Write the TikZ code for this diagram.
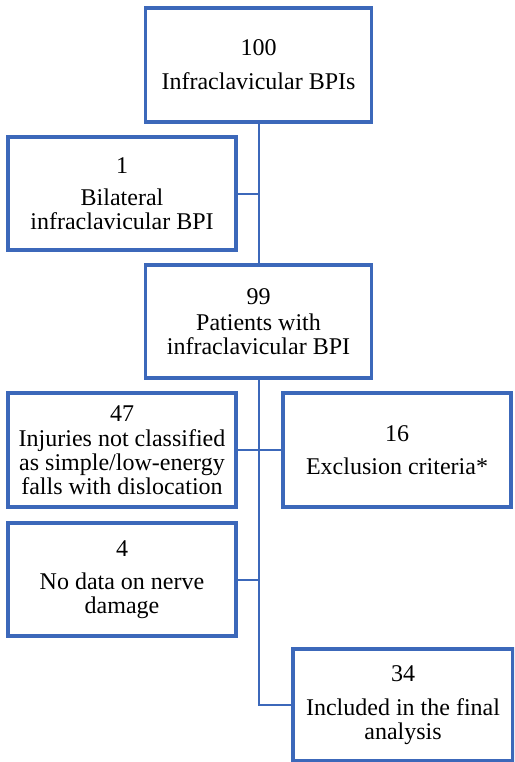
\documentclass[tikz,border=0pt]{standalone}
\usepackage{fontspec}
\setmainfont{Liberation Serif}
\definecolor{boxblue}{RGB}{60,104,186}
\begin{document}
\begin{tikzpicture}[x=1pt,y=-1pt,
  flowbox/.style={draw=boxblue, line width=3.5pt, rectangle, inner sep=0pt,
    align=center, font=\fontsize{24}{24}\selectfont, text=black},
  link/.style={draw=boxblue, line width=2pt}]
\useasboundingbox (0,0) rectangle (514,762);
\clip (0,0) rectangle (514,762);
\node[flowbox, minimum width=226, minimum height=114] (b1) at (258.5,65)
  {100\\[10pt]Infraclavicular BPIs};
\node[flowbox, minimum width=228, minimum height=113] (b2) at (122,193.5)
  {1\\[8pt]Bilateral\\infraclavicular BPI};
\node[flowbox, minimum width=226, minimum height=113] (b3) at (258.5,321.5)
  {99\\[2pt]Patients with\\infraclavicular BPI};
\node[flowbox, minimum width=228, minimum height=114] (b4) at (122,450)
  {47\\[1pt]Injuries not classified\\as simple/low-energy\\falls with dislocation};
\node[flowbox, minimum width=228, minimum height=114] (b5) at (397,450)
  {16\\[9pt]Exclusion criteria*};
\node[flowbox, minimum width=228, minimum height=113] (b6) at (122,579.5)
  {4\\[9pt]No data on nerve\\damage};
\node[flowbox, minimum width=220, minimum height=112] (b7) at (403,705)
  {34\\[10pt]Included in the final\\analysis};
\draw[link] (b1.south) -- (b3.north);
\draw[link] (b3.south) |- (b7.west);
\draw[link] (b2.east) -- (b2.east -| b1.south);
\draw[link] (b4.east) -- (b5.west);
\draw[link] (b6.east) -- (b6.east -| b3.south);
\end{tikzpicture}
\end{document}
